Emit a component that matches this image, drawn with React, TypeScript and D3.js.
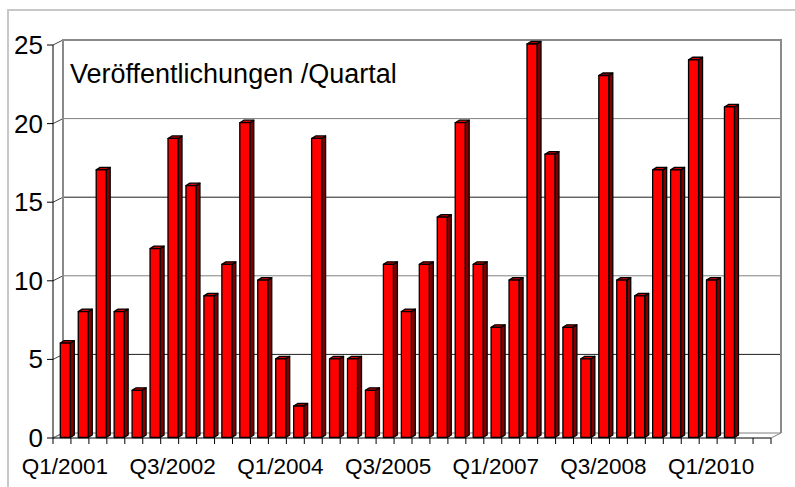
import React, { useEffect, useRef } from 'react';
import * as d3 from 'd3';

// quarters Q1/2001 .. Q4/2010 (last two slots are empty in the chart)
const quarters = [
  'Q1/2001', 'Q2/2001', 'Q3/2001', 'Q4/2001',
  'Q1/2002', 'Q2/2002', 'Q3/2002', 'Q4/2002',
  'Q1/2003', 'Q2/2003', 'Q3/2003', 'Q4/2003',
  'Q1/2004', 'Q2/2004', 'Q3/2004', 'Q4/2004',
  'Q1/2005', 'Q2/2005', 'Q3/2005', 'Q4/2005',
  'Q1/2006', 'Q2/2006', 'Q3/2006', 'Q4/2006',
  'Q1/2007', 'Q2/2007', 'Q3/2007', 'Q4/2007',
  'Q1/2008', 'Q2/2008', 'Q3/2008', 'Q4/2008',
  'Q1/2009', 'Q2/2009', 'Q3/2009', 'Q4/2009',
  'Q1/2010', 'Q2/2010', 'Q3/2010', 'Q4/2010',
];

const publications = [
  6, 8, 17, 8, 3, 12, 19, 16, 9, 11,
  20, 10, 5, 2, 19, 5, 5, 3, 11, 8,
  11, 14, 20, 11, 7, 10, 25, 18, 7, 5,
  23, 10, 9, 17, 17, 24, 10, 21, null, null,
];

const tickLabels = ['Q1/2001', 'Q3/2002', 'Q1/2004', 'Q3/2005', 'Q1/2007', 'Q3/2008', 'Q1/2010'];
const yTicks = [0, 5, 10, 15, 20, 25];
const title = 'Veröffentlichungen /Quartal';

const App = () => {
  const chartRef = useRef(null);
  const width = 795;
  const height = 487;

  useEffect(() => {
    const svg = d3.select(chartRef.current)
      .attr('width', width)
      .attr('height', height);
    svg.selectAll('*').remove();

    const left = 53;
    const right = 771;
    const base = 438;
    const depthX = 10;
    const depthY = 5;

    const x = d3.scaleBand()
      .domain(quarters)
      .range([left, right]);

    const yFront = d3.scaleLinear().domain([0, 25]).range([base, 45]);
    const yBack = d3.scaleLinear().domain([0, 25]).range([base - depthY, 45 - depthY]);
    const yBar = d3.scaleLinear().domain([0, 25]).range([base - 0.5, 44]);

    // outer frame
    svg.append('rect')
      .attr('x', 8).attr('y', 10)
      .attr('width', 800).attr('height', 500)
      .attr('fill', 'white')
      .attr('stroke', '#c8c8c8')
      .attr('stroke-width', 2);

    // back wall gridlines
    const grid = svg.append('g');
    yTicks.filter((t) => t > 0 && t < 25).forEach((t) => {
      grid.append('line')
        .attr('x1', left + depthX).attr('x2', right + depthX)
        .attr('y1', yBack(t)).attr('y2', yBack(t))
        .attr('stroke', t % 10 === 0 ? '#808080' : '#202020')
        .attr('stroke-width', 1);
    });

    // side wall diagonals + y ticks
    yTicks.forEach((t) => {
      grid.append('line')
        .attr('x1', left).attr('x2', left + depthX)
        .attr('y1', yFront(t)).attr('y2', yBack(t))
        .attr('stroke', '#404040');
      grid.append('line')
        .attr('x1', left - 6).attr('x2', left)
        .attr('y1', yFront(t)).attr('y2', yFront(t))
        .attr('stroke', '#000');
    });

    // back wall outline
    svg.append('path')
      .attr('d', `M${left + depthX},${yBack(0)}V${yBack(25)}H${right + depthX}V${yBack(0)}`)
      .attr('fill', 'none')
      .attr('stroke', '#8a8a8a')
      .attr('stroke-width', 2);

    // floor
    svg.append('path')
      .attr('d', `M${left},${base}L${left + depthX},${base - depthY}H${right + depthX}L${right},${base}`)
      .attr('fill', 'none')
      .attr('stroke', '#808080')
      .attr('stroke-width', 1);

    // bars
    const bw = 10;
    const off = 7.3;
    const dx = 4;
    const dy = 2.5;
    const barData = quarters
      .map((q, i) => ({ q, v: publications[i] }))
      .filter((d) => d.v != null);

    const bars = svg.append('g')
      .attr('stroke', '#000')
      .attr('stroke-width', 1.3)
      .attr('stroke-linejoin', 'round');

    barData.forEach((d) => {
      const x0 = x(d.q) + off;
      const x1 = x0 + bw;
      const yt = yBar(d.v);
      const yb = yBar(0);
      bars.append('path')
        .attr('d', `M${x1},${yt}L${x1 + dx},${yt - dy}V${yb - dy}L${x1},${yb}Z`)
        .attr('fill', '#800000');
      bars.append('path')
        .attr('d', `M${x0},${yt}L${x0 + dx},${yt - dy}H${x1 + dx}L${x1},${yt}Z`)
        .attr('fill', '#d00000');
      bars.append('rect')
        .attr('x', x0).attr('y', yt)
        .attr('width', bw).attr('height', yb - yt)
        .attr('fill', '#ff0000');
    });

    // front axes
    svg.append('line')
      .attr('x1', left).attr('x2', left)
      .attr('y1', yFront(25)).attr('y2', base)
      .attr('stroke', '#000');
    svg.append('line')
      .attr('x1', left).attr('x2', right)
      .attr('y1', base).attr('y2', base)
      .attr('stroke', '#000');

    const edges = quarters.map((q) => x(q)).concat([right]);
    svg.append('g')
      .selectAll('line')
      .data(edges)
      .enter()
      .append('line')
      .attr('x1', (d) => d).attr('x2', (d) => d)
      .attr('y1', base).attr('y2', base + 6)
      .attr('stroke', '#000');

    // y labels
    svg.append('g')
      .selectAll('text')
      .data(yTicks)
      .enter()
      .append('text')
      .attr('x', 43)
      .attr('y', (d) => yFront(d) + 9)
      .attr('text-anchor', 'end')
      .attr('font-family', 'Liberation Sans, Arial, sans-serif')
      .attr('font-size', 26)
      .text((d) => d);

    // x labels
    svg.append('g')
      .selectAll('text')
      .data(tickLabels)
      .enter()
      .append('text')
      .attr('x', (d) => x(d) + x.bandwidth() / 2 + 3)
      .attr('y', 473.5)
      .attr('text-anchor', 'middle')
      .attr('font-family', 'Liberation Sans, Arial, sans-serif')
      .attr('font-size', 22.5)
      .text((d) => d);

    svg.append('text')
      .attr('x', 70)
      .attr('y', 82.5)
      .attr('font-family', 'Liberation Sans, Arial, sans-serif')
      .attr('font-size', 27)
      .text(title);
  }, []);

  return (
    <svg ref={chartRef} style={{ position: 'absolute', left: 0, top: 0 }}></svg>
  );
};

export default App;
